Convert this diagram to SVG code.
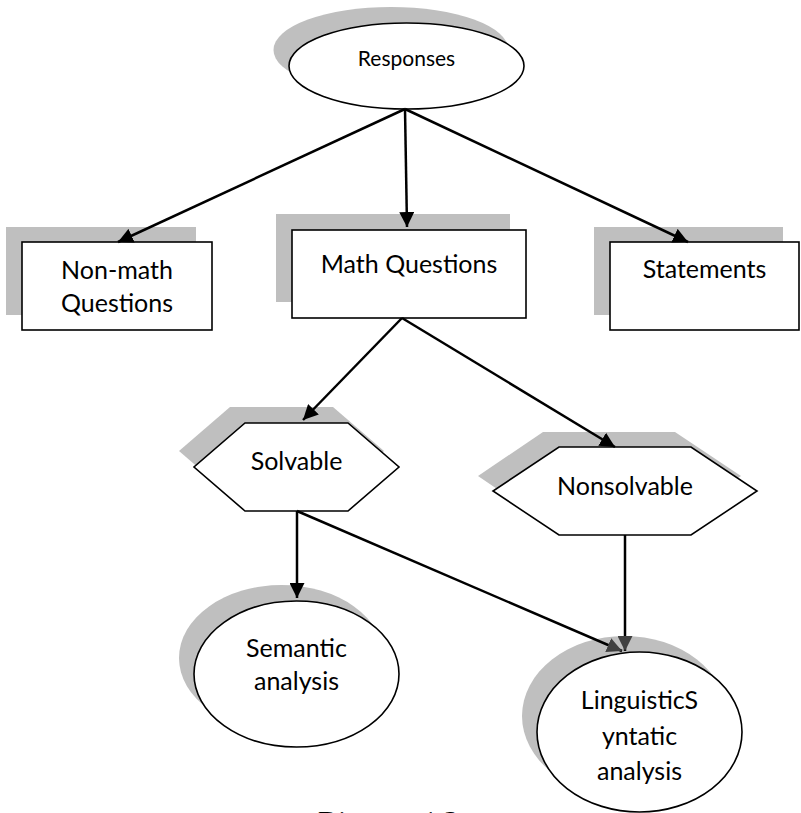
<svg xmlns="http://www.w3.org/2000/svg" width="801" height="813" viewBox="0 0 801 813">
<defs>
<style>
.sh{fill:#bfbfbf;stroke:none}
.nd{fill:#ffffff;stroke:#000000;stroke-width:1.6}
.t{font-family:Lato,"Open Sans","Liberation Sans",sans-serif;font-size:25px;fill:#000000;text-anchor:middle}
.c{stroke:#000000;stroke-width:2.5;fill:none}
</style>
<marker id="ah" markerUnits="userSpaceOnUse" viewBox="0 0 15 15" refX="15" refY="7.5" markerWidth="15" markerHeight="15" orient="auto">
<path d="M0,0 L15,7.5 L0,15 z" fill="#000000"/>
</marker>
<marker id="ahg" markerUnits="userSpaceOnUse" viewBox="0 0 15 15" refX="15" refY="7.5" markerWidth="15" markerHeight="15" orient="auto">
<path d="M0,0 L15,7.5 L0,15 z" fill="#404040"/>
</marker>
</defs>
<rect width="801" height="813" fill="#ffffff"/>

<g id="responses">
<ellipse class="sh" cx="391" cy="50" rx="117.5" ry="43"/>
<ellipse class="nd" cx="406.5" cy="66" rx="117.5" ry="43"/>
<text class="t" x="406.5" y="66" style="font-size:21px">Responses</text>
</g>

<g id="nonmath">
<rect class="sh" x="6" y="227" width="190" height="88"/>
<rect class="nd" x="22" y="242" width="190" height="88"/>
<text class="t" x="117" y="279">Non-math</text>
<text class="t" x="117" y="312">Questions</text>
</g>

<g id="math">
<rect class="sh" x="276" y="214" width="234" height="88"/>
<rect class="nd" x="292" y="230" width="234" height="88"/>
<text class="t" x="409" y="273">Math Questions</text>
</g>

<g id="statements">
<rect class="sh" x="594" y="227" width="189" height="88"/>
<rect class="nd" x="610" y="242" width="189" height="88"/>
<text class="t" x="704.5" y="278">Statements</text>
</g>

<g id="solvable">
<polygon class="sh" points="230,407 333,407 384,451 333,495 230,495 179,451"/>
<polygon class="nd" points="245,423 348,423 399,467 348,511 245,511 194,467"/>
<text class="t" x="296.5" y="470">Solvable</text>
</g>

<g id="nonsolvable">
<polygon class="sh" points="543,432 675,432 741,476 675,520 543,520 478,476"/>
<polygon class="nd" points="559,447 691,447 757,491 691,535 559,535 493,491"/>
<text class="t" x="625" y="495">Nonsolvable</text>
</g>

<g id="semantic">
<ellipse class="sh" cx="281.5" cy="658" rx="102.5" ry="73"/>
<ellipse class="nd" cx="296.5" cy="674" rx="102.5" ry="73"/>
<text class="t" x="296.5" y="657">Semantic</text>
<text class="t" x="296.5" y="690">analysis</text>
</g>

<g id="linguistic">
<ellipse class="sh" cx="624.5" cy="716" rx="102.5" ry="80"/>
<ellipse class="nd" cx="639.5" cy="732" rx="102.5" ry="80"/>
<text class="t" x="639.5" y="709">LinguisticS</text>
<text class="t" x="639.5" y="745">yntatic</text>
<text class="t" x="639.5" y="780">analysis</text>
</g>

<g id="connectors">
<line class="c" x1="405" y1="109" x2="118" y2="242" marker-end="url(#ah)"/>
<line class="c" x1="405" y1="109" x2="407" y2="227" marker-end="url(#ah)"/>
<line class="c" x1="405" y1="109" x2="688" y2="242" marker-end="url(#ah)"/>
<line class="c" x1="402" y1="318" x2="303" y2="420" marker-end="url(#ah)"/>
<line class="c" x1="402" y1="318" x2="615" y2="447" marker-end="url(#ah)"/>
<line class="c" x1="297" y1="511" x2="297" y2="598" marker-end="url(#ah)"/>
<line class="c" x1="297" y1="511" x2="622" y2="651" marker-end="url(#ahg)"/>
<line class="c" x1="625" y1="535" x2="625" y2="651" marker-end="url(#ahg)"/>
</g>

<text x="318" y="830" style="font-family:'Liberation Serif',serif;font-size:28px;fill:#000000">Diagram 1.3</text>
</svg>
